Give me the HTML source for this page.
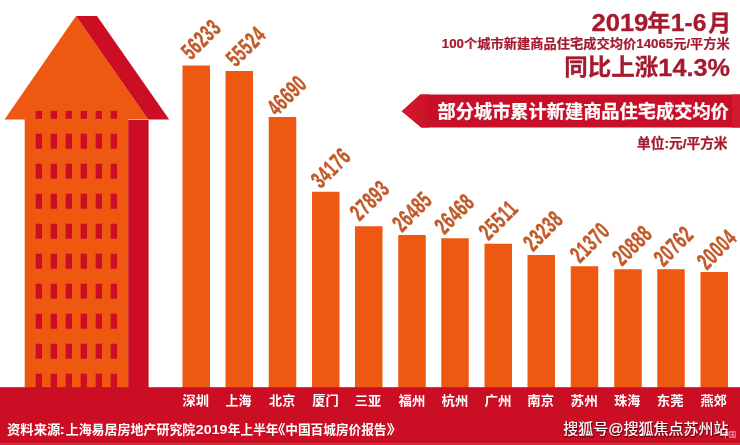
<!DOCTYPE html>
<html lang="zh-CN"><head><meta charset="utf-8"><title>部分城市累计新建商品住宅成交均价</title>
<style>
html,body{margin:0;padding:0;background:#fff;}
body{width:740px;height:445px;overflow:hidden;}
svg{display:block;}
text{font-family:"Liberation Sans","Noto Sans CJK SC",sans-serif;font-weight:bold;}
</style></head><body>
<svg width="740" height="445" viewBox="0 0 740 445">
<rect width="740" height="445" fill="#fff"/>
<g id="house">
<polygon points="76,16 4.5,119.6 148.1,119.6" fill="#ee5811"/>
<polygon points="76,16 97,16 169.2,119.6 148.1,119.6" fill="#cb0e23"/>
<rect x="24.7" y="119" width="103.6" height="270" fill="#ee5811"/>
<rect x="128.2" y="120" width="20.4" height="270" fill="#cb0e23"/>
<rect x="35.70" y="110.9" width="6.3" height="7.9" fill="#cb0e23"/>
<rect x="35.70" y="133.75" width="6.3" height="15" fill="#cb0e23"/>
<rect x="35.70" y="163.75" width="6.3" height="15" fill="#cb0e23"/>
<rect x="35.70" y="193.75" width="6.3" height="15" fill="#cb0e23"/>
<rect x="35.70" y="223.75" width="6.3" height="15" fill="#cb0e23"/>
<rect x="35.70" y="253.75" width="6.3" height="15" fill="#cb0e23"/>
<rect x="35.70" y="283.75" width="6.3" height="15" fill="#cb0e23"/>
<rect x="35.70" y="313.75" width="6.3" height="15" fill="#cb0e23"/>
<rect x="35.70" y="343.75" width="6.3" height="15" fill="#cb0e23"/>
<rect x="35.70" y="373.75" width="6.3" height="15" fill="#cb0e23"/>
<rect x="50.70" y="110.9" width="6.3" height="7.9" fill="#cb0e23"/>
<rect x="50.70" y="133.75" width="6.3" height="15" fill="#cb0e23"/>
<rect x="50.70" y="163.75" width="6.3" height="15" fill="#cb0e23"/>
<rect x="50.70" y="193.75" width="6.3" height="15" fill="#cb0e23"/>
<rect x="50.70" y="223.75" width="6.3" height="15" fill="#cb0e23"/>
<rect x="50.70" y="253.75" width="6.3" height="15" fill="#cb0e23"/>
<rect x="50.70" y="283.75" width="6.3" height="15" fill="#cb0e23"/>
<rect x="50.70" y="313.75" width="6.3" height="15" fill="#cb0e23"/>
<rect x="50.70" y="343.75" width="6.3" height="15" fill="#cb0e23"/>
<rect x="50.70" y="373.75" width="6.3" height="15" fill="#cb0e23"/>
<rect x="65.70" y="110.9" width="6.3" height="7.9" fill="#cb0e23"/>
<rect x="65.70" y="133.75" width="6.3" height="15" fill="#cb0e23"/>
<rect x="65.70" y="163.75" width="6.3" height="15" fill="#cb0e23"/>
<rect x="65.70" y="193.75" width="6.3" height="15" fill="#cb0e23"/>
<rect x="65.70" y="223.75" width="6.3" height="15" fill="#cb0e23"/>
<rect x="65.70" y="253.75" width="6.3" height="15" fill="#cb0e23"/>
<rect x="65.70" y="283.75" width="6.3" height="15" fill="#cb0e23"/>
<rect x="65.70" y="313.75" width="6.3" height="15" fill="#cb0e23"/>
<rect x="65.70" y="343.75" width="6.3" height="15" fill="#cb0e23"/>
<rect x="65.70" y="373.75" width="6.3" height="15" fill="#cb0e23"/>
<rect x="80.70" y="110.9" width="6.3" height="7.9" fill="#cb0e23"/>
<rect x="80.70" y="133.75" width="6.3" height="15" fill="#cb0e23"/>
<rect x="80.70" y="163.75" width="6.3" height="15" fill="#cb0e23"/>
<rect x="80.70" y="193.75" width="6.3" height="15" fill="#cb0e23"/>
<rect x="80.70" y="223.75" width="6.3" height="15" fill="#cb0e23"/>
<rect x="80.70" y="253.75" width="6.3" height="15" fill="#cb0e23"/>
<rect x="80.70" y="283.75" width="6.3" height="15" fill="#cb0e23"/>
<rect x="80.70" y="313.75" width="6.3" height="15" fill="#cb0e23"/>
<rect x="80.70" y="343.75" width="6.3" height="15" fill="#cb0e23"/>
<rect x="80.70" y="373.75" width="6.3" height="15" fill="#cb0e23"/>
<rect x="95.70" y="110.9" width="6.3" height="7.9" fill="#cb0e23"/>
<rect x="95.70" y="133.75" width="6.3" height="15" fill="#cb0e23"/>
<rect x="95.70" y="163.75" width="6.3" height="15" fill="#cb0e23"/>
<rect x="95.70" y="193.75" width="6.3" height="15" fill="#cb0e23"/>
<rect x="95.70" y="223.75" width="6.3" height="15" fill="#cb0e23"/>
<rect x="95.70" y="253.75" width="6.3" height="15" fill="#cb0e23"/>
<rect x="95.70" y="283.75" width="6.3" height="15" fill="#cb0e23"/>
<rect x="95.70" y="313.75" width="6.3" height="15" fill="#cb0e23"/>
<rect x="95.70" y="343.75" width="6.3" height="15" fill="#cb0e23"/>
<rect x="95.70" y="373.75" width="6.3" height="15" fill="#cb0e23"/>
<rect x="110.70" y="110.9" width="6.3" height="7.9" fill="#cb0e23"/>
<rect x="110.70" y="133.75" width="6.3" height="15" fill="#cb0e23"/>
<rect x="110.70" y="163.75" width="6.3" height="15" fill="#cb0e23"/>
<rect x="110.70" y="193.75" width="6.3" height="15" fill="#cb0e23"/>
<rect x="110.70" y="223.75" width="6.3" height="15" fill="#cb0e23"/>
<rect x="110.70" y="253.75" width="6.3" height="15" fill="#cb0e23"/>
<rect x="110.70" y="283.75" width="6.3" height="15" fill="#cb0e23"/>
<rect x="110.70" y="313.75" width="6.3" height="15" fill="#cb0e23"/>
<rect x="110.70" y="343.75" width="6.3" height="15" fill="#cb0e23"/>
<rect x="110.70" y="373.75" width="6.3" height="15" fill="#cb0e23"/>
</g>
<g id="bars">
<rect x="182.5" y="65.5" width="27.5" height="324.5" fill="#ee5811"/>
<rect x="225.5" y="71" width="27.5" height="319" fill="#ee5811"/>
<rect x="268.75" y="117" width="27.5" height="273" fill="#ee5811"/>
<rect x="312" y="191.75" width="27.5" height="198.25" fill="#ee5811"/>
<rect x="355" y="226.25" width="27.5" height="163.75" fill="#ee5811"/>
<rect x="398.25" y="235" width="27.5" height="155" fill="#ee5811"/>
<rect x="441.25" y="238.25" width="27.5" height="151.75" fill="#ee5811"/>
<rect x="484.5" y="243.75" width="27.5" height="146.25" fill="#ee5811"/>
<rect x="527.5" y="255" width="27.5" height="135" fill="#ee5811"/>
<rect x="570.75" y="266.25" width="27.5" height="123.75" fill="#ee5811"/>
<rect x="614.25" y="269.25" width="27.5" height="120.75" fill="#ee5811"/>
<rect x="657.25" y="269.25" width="27.5" height="120.75" fill="#ee5811"/>
<rect x="700.5" y="272" width="27.5" height="118" fill="#ee5811"/>
</g>
<g id="values" fill="#c25a2a" font-size="23.5" stroke="#c25a2a" stroke-width="0.5" letter-spacing="1.1">
<text transform="translate(190.90,60.65) rotate(-45) scale(0.63,1)">56233</text>
<text transform="translate(235.75,67.80) rotate(-45) scale(0.63,1)">55524</text>
<text transform="translate(276.80,116.70) rotate(-45) scale(0.63,1)">46690</text>
<text transform="translate(320.75,189.35) rotate(-45) scale(0.63,1)">34176</text>
<text transform="translate(359.60,221.85) rotate(-45) scale(0.63,1)">27893</text>
<text transform="translate(402.10,233.00) rotate(-45) scale(0.63,1)">26485</text>
<text transform="translate(444.30,235.15) rotate(-45) scale(0.63,1)">26468</text>
<text transform="translate(488.60,241.00) rotate(-45) scale(0.63,1)">25511</text>
<text transform="translate(532.95,252.15) rotate(-45) scale(0.63,1)">23238</text>
<text transform="translate(579.85,263.85) rotate(-45) scale(0.63,1)">21370</text>
<text transform="translate(622.00,266.85) rotate(-45) scale(0.63,1)">20888</text>
<text transform="translate(663.45,267.45) rotate(-45) scale(0.63,1)">20762</text>
<text transform="translate(706.70,270.70) rotate(-45) scale(0.63,1)">20004</text>
</g>
<rect x="0" y="387.2" width="740" height="57.8" fill="#cb0e23"/>
<rect x="0" y="441.4" width="740" height="1.2" fill="#b90d22"/>
<rect x="0" y="442.6" width="740" height="2.4" fill="#da2a3e"/>
<g id="cities" fill="#fff">
<text x="182.54" y="405.4" font-size="13" textLength="26.49" lengthAdjust="spacingAndGlyphs">深圳</text>
<text x="225.55" y="405.4" font-size="13" textLength="25.96" lengthAdjust="spacingAndGlyphs">上海</text>
<text x="269.05" y="405.4" font-size="13" textLength="26.22" lengthAdjust="spacingAndGlyphs">北京</text>
<text x="312.3" y="405.4" font-size="13" textLength="26.49" lengthAdjust="spacingAndGlyphs">厦门</text>
<text x="354.79" y="405.4" font-size="13" textLength="26.49" lengthAdjust="spacingAndGlyphs">三亚</text>
<text x="398.54" y="405.4" font-size="13" textLength="26.76" lengthAdjust="spacingAndGlyphs">福州</text>
<text x="441.54" y="405.4" font-size="13" textLength="26.76" lengthAdjust="spacingAndGlyphs">杭州</text>
<text x="484.53" y="405.4" font-size="13" textLength="27.03" lengthAdjust="spacingAndGlyphs">广州</text>
<text x="527.28" y="405.4" font-size="13" textLength="26.76" lengthAdjust="spacingAndGlyphs">南京</text>
<text x="570.51" y="405.4" font-size="13" textLength="27.32" lengthAdjust="spacingAndGlyphs">苏州</text>
<text x="614.3" y="405.4" font-size="13" textLength="25.96" lengthAdjust="spacingAndGlyphs">珠海</text>
<text x="656.77" y="405.4" font-size="13" textLength="26.76" lengthAdjust="spacingAndGlyphs">东莞</text>
<text x="700.55" y="405.4" font-size="13" textLength="26.22" lengthAdjust="spacingAndGlyphs">燕郊</text>
</g>
<g id="source" fill="#fff">
<text x="7.09" y="434.3" font-size="13" textLength="53.18" lengthAdjust="spacingAndGlyphs">资料来源</text>
<text x="59.63" y="434.3" font-size="13" textLength="5.46" lengthAdjust="spacingAndGlyphs">:</text>
<text x="65.7" y="434.3" font-size="13" textLength="129.66" lengthAdjust="spacingAndGlyphs">上海易居房地产研究院</text>
<text x="195.87" y="434.3" font-size="13.4" textLength="31.61" lengthAdjust="spacingAndGlyphs">2019</text>
<text x="227.81" y="434.3" font-size="13" textLength="50.69" lengthAdjust="spacingAndGlyphs">年上半年</text>
<text x="270.87" y="434.3" font-size="13" textLength="14.71" lengthAdjust="spacingAndGlyphs">《</text>
<text x="285.28" y="434.3" font-size="13" textLength="101.26" lengthAdjust="spacingAndGlyphs">中国百城房价报告</text>
<text x="386.57" y="434.3" font-size="13" textLength="16.52" lengthAdjust="spacingAndGlyphs">》</text>
</g>
<g id="wm" style="font-weight:normal">
<text x="563.85" y="435.2" font-size="15" textLength="165.23" lengthAdjust="spacingAndGlyphs" fill="#30060b" stroke="#30060b" stroke-width="1.2" opacity="0.55" filter="url(#wmblur)" style="font-weight:normal">搜狐号@搜狐焦点苏州站</text>
<text x="563.25" y="434.4" font-size="15" textLength="165.23" lengthAdjust="spacingAndGlyphs" fill="#fff" stroke="#fff" stroke-width="0.2" style="font-weight:normal">搜狐号@搜狐焦点苏州站</text>
<text x="722" y="437" font-size="7" fill="#fff" opacity="0.75" style="font-weight:normal">中国</text>
</g>
<g id="head" fill="#a51a2e" stroke="#a51a2e" stroke-width="0.3">
<text x="591.4" y="31.4" font-size="23.9" textLength="56.98" lengthAdjust="spacingAndGlyphs">2019</text>
<text x="647.17" y="30.8" font-size="22.5" textLength="23.17" lengthAdjust="spacingAndGlyphs">年</text>
<text x="670.85" y="31.4" font-size="23.9" textLength="35.66" lengthAdjust="spacingAndGlyphs">1-6</text>
<text x="708.39" y="31.2" font-size="22.5" textLength="23.0" lengthAdjust="spacingAndGlyphs">月</text>
<text x="441.81" y="48.2" font-size="12.6" textLength="288.1" lengthAdjust="spacingAndGlyphs" stroke-width="0.2">100个城市新建商品住宅成交均价14065元/平方米</text>
<text x="564.28" y="75.1" font-size="22.5" textLength="93.86" lengthAdjust="spacingAndGlyphs">同比上涨</text>
<text x="658.33" y="75.9" font-size="24.2" textLength="71.69" lengthAdjust="spacingAndGlyphs">14.3%</text>
<text x="637.04" y="147.9" font-size="13.5" textLength="90.47" lengthAdjust="spacingAndGlyphs" stroke-width="0.25">单位:元/平方米</text>
</g>
<g id="banner">
<defs><linearGradient id="tipg" gradientUnits="userSpaceOnUse" x1="402" y1="0" x2="429" y2="0"><stop offset="0" stop-color="#d31a2c"/><stop offset="0.75" stop-color="#cd152a"/><stop offset="1" stop-color="#c80f28"/></linearGradient><filter id="wmblur" x="-5%" y="-30%" width="110%" height="160%"><feGaussianBlur stdDeviation="0.7"/></filter></defs>
<polygon points="401.8,111.2 420.3,94.5 740,94.5 740,127.5 421.3,127.5" fill="#c80f28"/>
<polygon points="401.8,111.2 420.3,94.5 429,94.5 429,127.5 421.3,127.5" fill="url(#tipg)"/>
<rect x="732" y="94.5" width="8" height="33" fill="#d3192d"/>
<text x="437.54" y="117.6" font-size="18" textLength="291.26" lengthAdjust="spacingAndGlyphs" fill="#fff" stroke="#fff" stroke-width="0.25">部分城市累计新建商品住宅成交均价</text>
</g>
</svg>
</body></html>
